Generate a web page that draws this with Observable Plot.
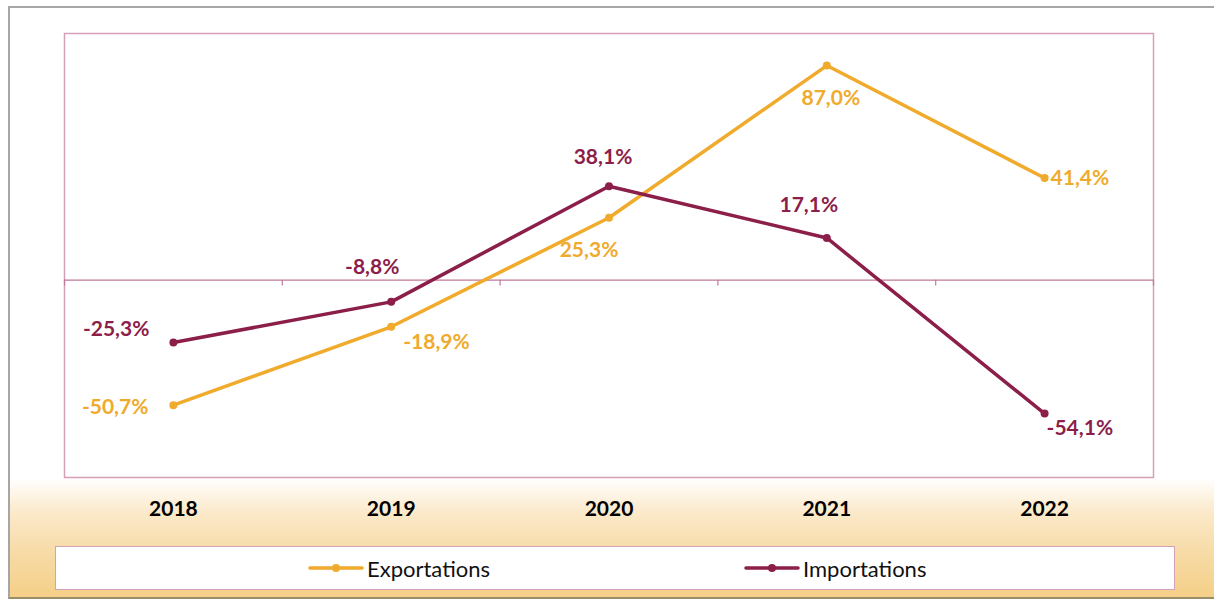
<!DOCTYPE html>
<html>
<head>
<meta charset="utf-8">
<script src="https://cdn.jsdelivr.net/npm/d3@7"></script>
<script src="https://cdn.jsdelivr.net/npm/@observablehq/plot@0.6"></script>
<style>
  html, body { margin: 0; padding: 0; background: #ffffff; width: 1214px; height: 599px; overflow: hidden; font-family: Lato, "DejaVu Sans", sans-serif; }
  #outer { position: absolute; left: 8px; top: 6px; width: 1220px; height: 589px; border: 2px solid #a6a6a6; border-bottom-color: #9a8c68; box-sizing: content-box;
    background: linear-gradient(to bottom, #ffffff 0px, #ffffff 470px, #fbe9c9 505px, #f7dba6 545px, #f4cf88 589px); }
  #chart { position: absolute; left: 0; top: 0; }
  #legend { position: absolute; left: 55px; top: 546px; width: 1118px; height: 42px; background: #fff; border: 1.5px solid #d59fb8; }
  .item { position: absolute; top: 0; height: 42px; display: flex; align-items: center; font-size: 22px; color: #111; }
  .item svg { margin-right: 3px; }
</style>
</head>
<body>
<div id="outer"></div>
<div id="chart"></div>
<div id="legend"></div>
<script>
// ---- data ----
const years = ["2018", "2019", "2020", "2021", "2022"];
const exportations = [-50.7, -18.9, 25.3, 87.0, 41.4];
const importations = [-25.3, -8.8, 38.1, 17.1, -54.1];
const seriesNames = ["Exportations", "Importations"];
const seriesColors = ["#F0AA2C", "#8C1E4A"];

// ---- label placement (styling) ----
const exportLabelPlacement = [
  {anchor: "end", dx: -25, dy: 2},
  {anchor: "start", dx: 12, dy: 15},
  {anchor: "middle", dx: -20, dy: 33},
  {anchor: "middle", dx: 4, dy: 33},
  {anchor: "start", dx: 6, dy: 0}
];
const importLabelPlacement = [
  {anchor: "end", dx: -24, dy: -13},
  {anchor: "middle", dx: -19, dy: -35},
  {anchor: "middle", dx: -6, dy: -29},
  {anchor: "middle", dx: -18, dy: -33},
  {anchor: "start", dx: 2, dy: 15}
];

const fmt = v => v.toFixed(1).replace(".", ",") + "%";
const rows = [];
years.forEach((y, i) => {
  rows.push({i, year: y, series: seriesNames[0], value: exportations[i], place: exportLabelPlacement[i]});
  rows.push({i, year: y, series: seriesNames[1], value: importations[i], place: importLabelPlacement[i]});
});
const bounds = d3.range(years.length + 1).map(k => k - 0.5);
const color = s => seriesColors[seriesNames.indexOf(s)];

const labelMarks = [];
for (const anchor of ["start", "middle", "end"]) {
  for (const r of rows.filter(r => r.place.anchor === anchor)) {
    labelMarks.push(Plot.text([r], {
      x: "i", y: "value", text: d => fmt(d.value),
      textAnchor: anchor, dx: r.place.dx, dy: r.place.dy,
      fill: color(r.series), fontSize: 21, fontWeight: "bold", lineAnchor: "middle"
    }));
  }
}

const plot = Plot.plot({
  width: 1214,
  height: 530,
  marginLeft: 64,
  marginRight: 61,
  marginTop: 33,
  marginBottom: 53,
  style: {background: "transparent", fontFamily: "Lato, sans-serif", overflow: "visible"},
  x: {type: "linear", domain: [-0.5, years.length - 0.5], axis: null},
  y: {domain: [-80, 100], axis: null},
  color: {domain: seriesNames, range: seriesColors},
  marks: [
    Plot.frame({fill: "white", stroke: "#d59fb8", strokeWidth: 1.5}),
    Plot.ruleY([0], {stroke: "#c07898", strokeWidth: 1.2}),
    Plot.ruleX(bounds, {x: d => d, y1: 0, y2: -2.4, stroke: "#c07898", strokeWidth: 1.2}),
    Plot.line(rows, {x: "i", y: "value", z: "series", stroke: "series", strokeWidth: 3.5}),
    Plot.dot(rows, {x: "i", y: "value", fill: "series", r: 4}),
    ...labelMarks,
    Plot.text(years, {x: (d, i) => i, text: d => d, frameAnchor: "bottom", dy: 32, lineAnchor: "middle",
      fontSize: 21, fontWeight: "bold", fill: "#000"})
  ]
});
document.getElementById("chart").appendChild(plot);

// ---- legend ----
const legend = document.getElementById("legend");
const legendLeft = [252, 688];
seriesNames.forEach((name, k) => {
  const item = document.createElement("div");
  item.className = "item";
  item.style.left = legendLeft[k] + "px";
  item.innerHTML = `<svg width="56" height="12"><line x1="2" y1="6" x2="54" y2="6" stroke="${seriesColors[k]}" stroke-width="3.5" stroke-linecap="round"/><circle cx="28" cy="6" r="4" fill="${seriesColors[k]}"/></svg><span>${name}</span>`;
  legend.appendChild(item);
});
</script>
</body>
</html>
